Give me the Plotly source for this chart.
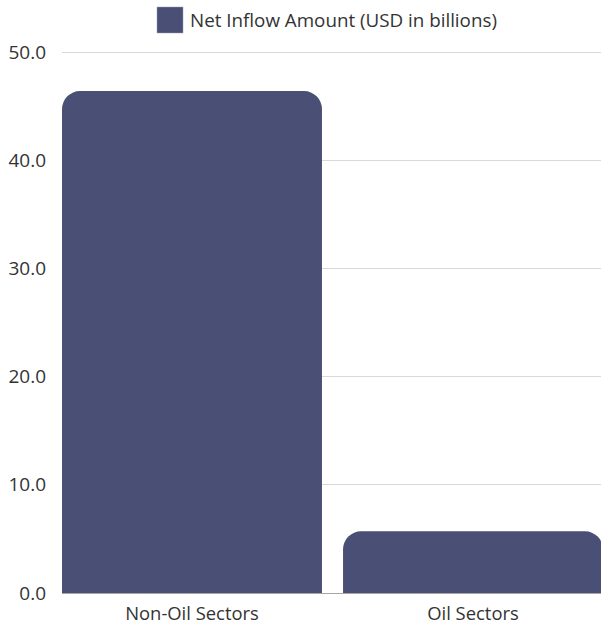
import plotly.graph_objects as go

# Net inflow by sector (USD in billions)
categories = ["Non-Oil Sectors", "Oil Sectors"]
net_inflow = [46.4, 5.7]
series_name = "Net Inflow Amount (USD in billions)"
y_ticks = [0, 10, 20, 30, 40, 50]
y_tick_labels = ["0.0", "10.0", "20.0", "30.0", "40.0", "50.0"]

BAR_COLOR = "#4a4f75"
TEXT_COLOR = "#333333"
FONT = "'Open Sans', sans-serif"

W, H = 601, 627
ML, MR, MT, MB = 62, 0, 50, 34
PW, PH = W - ML - MR, H - MT - MB

fig = go.Figure()
fig.add_trace(go.Bar(
    x=categories,
    y=net_inflow,
    name=series_name,
    marker=dict(color=BAR_COLOR, line=dict(width=0)),
    width=0.925,
    showlegend=False,
))

# Custom legend: swatch plus label above the plot
fig.add_shape(type="rect", xref="paper", yref="paper",
              x0=(157 - ML) / PW, x1=(183 - ML) / PW,
              y0=(H - MB - 33) / PH, y1=(H - MB - 7) / PH,
              fillcolor=BAR_COLOR, line=dict(width=0.5, color="#9a9db5"))
fig.add_annotation(text=series_name, xref="paper", yref="paper",
                   x=(188 - ML) / PW, y=(H - MB - 20) / PH,
                   xanchor="left", yanchor="middle", showarrow=False,
                   font=dict(family=FONT, size=18.8, color=TEXT_COLOR))

fig.update_layout(
    width=W, height=H,
    margin=dict(l=ML, r=MR, t=MT, b=MB),
    paper_bgcolor="white", plot_bgcolor="white",
    barcornerradius=18,
    font=dict(family=FONT, size=18, color=TEXT_COLOR),
    xaxis=dict(
        type="category",
        range=[-0.4626, 1.4555],
        showgrid=False, showline=False, zeroline=False,
        ticks="", ticklabelstandoff=8,
        tickfont=dict(family=FONT, size=18.4, color=TEXT_COLOR),
    ),
    yaxis=dict(
        range=[0, 50.2],
        tickvals=y_ticks, ticktext=y_tick_labels,
        showgrid=True, gridcolor="#d9d9d9", gridwidth=1,
        zeroline=True, zerolinecolor="#a6a6a6", zerolinewidth=1,
        showline=False, ticks="", ticklabelstandoff=15,
        tickfont=dict(family=FONT, size=19, color=TEXT_COLOR),
    ),
)

fig.write_html("out.html")
